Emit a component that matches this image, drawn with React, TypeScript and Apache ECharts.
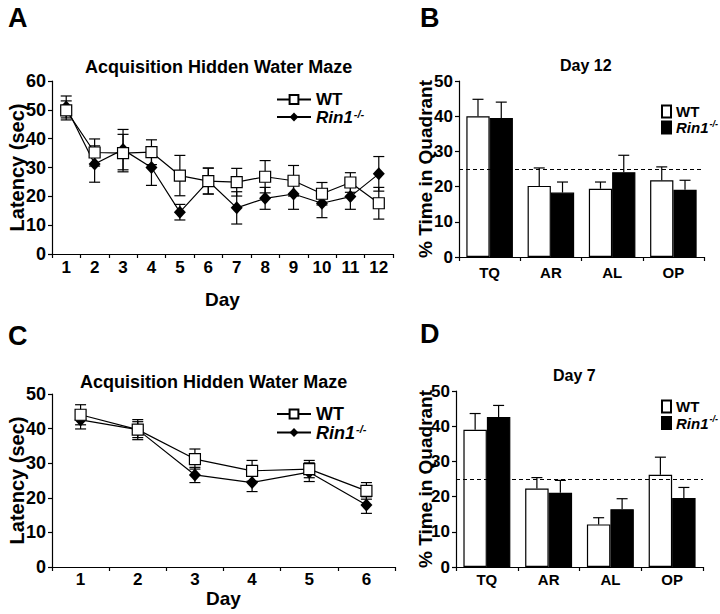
import React, { useEffect, useRef } from 'react';
import * as echarts from 'echarts';

const FONT = '"Liberation Sans", Arial, Helvetica, sans-serif';

// Panel A: acquisition, 12 days
const daysA = ['1', '2', '3', '4', '5', '6', '7', '8', '9', '10', '11', '12'];
const wtA = [49.8, 35.2, 35.0, 35.3, 27.2, 25.3, 24.9, 26.8, 25.4, 20.9, 24.8, 17.6];
const wtAErr = [3.3, 4.7, 6.5, 4.3, 7.0, 4.5, 4.8, 5.6, 5.3, 3.9, 3.4, 5.5];
const rinA = [51.0, 31.2, 36.2, 30.0, 14.5, 25.3, 16.0, 19.3, 20.8, 17.6, 19.9, 27.8];
const rinAErr = [3.8, 6.3, 7.0, 6.2, 2.7, 4.5, 5.6, 3.8, 5.3, 5.0, 4.4, 6.0];

// Panel C: acquisition, 6 days
const daysC = ['1', '2', '3', '4', '5', '6'];
const wtC = [44.0, 39.7, 31.2, 27.8, 28.3, 22.0];
const wtCErr = [2.9, 2.3, 2.9, 3.0, 2.5, 2.4];
const rinC = [42.5, 39.7, 26.6, 24.4, 27.4, 17.9];
const rinCErr = [2.6, 2.9, 2.2, 2.6, 2.7, 2.4];

// Panels B and D: probe trials
const quadrants = ['TQ', 'AR', 'AL', 'OP'];
const wtB = [40.0, 20.2, 19.4, 21.8];
const wtBErr = [4.8, 5.1, 1.9, 3.8];
const rinB = [39.5, 18.3, 24.1, 19.1];
const rinBErr = [4.5, 3.0, 4.8, 2.7];
const wtD = [39.0, 22.3, 12.1, 26.2];
const wtDErr = [4.6, 3.1, 1.9, 5.0];
const rinD = [42.6, 21.1, 16.4, 19.6];
const rinDErr = [3.3, 3.5, 3.0, 3.0];
const chance = 25;

const BLACK = '#000';

function lineErrItem(params: any, api: any) {
  const x = api.value(0);
  const lo = api.coord([x, api.value(1)]);
  const hi = api.coord([x, api.value(2)]);
  const w = 5.5;
  const style = { stroke: BLACK, lineWidth: 1.2, fill: 'none' };
  return {
    type: 'group',
    children: [
      { type: 'line', shape: { x1: lo[0], y1: lo[1], x2: hi[0], y2: hi[1] }, style },
      { type: 'line', shape: { x1: lo[0] - w, y1: lo[1], x2: lo[0] + w, y2: lo[1] }, style },
      { type: 'line', shape: { x1: hi[0] - w, y1: hi[1], x2: hi[0] + w, y2: hi[1] }, style },
    ],
  };
}

function barErrItem(params: any, api: any) {
  const c = api.value(0);
  const side = api.value(1);
  const b = api.coord([c, api.value(2)]);
  const t = api.coord([c, api.value(3)]);
  const band = api.size([1, 0])[0];
  const x = b[0] + (side === 0 ? -1 : 1) * band * 0.19;
  const w = 5.5;
  const style = { stroke: BLACK, lineWidth: 1.2, fill: 'none' };
  return {
    type: 'group',
    children: [
      { type: 'line', shape: { x1: x, y1: b[1], x2: x, y2: t[1] }, style },
      { type: 'line', shape: { x1: x - w, y1: t[1], x2: x + w, y2: t[1] }, style },
    ],
  };
}

const legendRich = (size: number, lh: number) => ({
  n: { fontFamily: FONT, fontWeight: 'bold', fontSize: size, color: BLACK, lineHeight: lh },
  i: { fontFamily: FONT, fontWeight: 'bold', fontStyle: 'italic', fontSize: size, color: BLACK, lineHeight: lh },
  s: {
    fontFamily: FONT,
    fontWeight: 'bold',
    fontStyle: 'italic',
    fontSize: Math.round(size * 0.62),
    color: BLACK,
    lineHeight: Math.round(size * 0.62),
    verticalAlign: 'top',
    padding: [0, 0, 0, 1],
  },
});

const legendFormatter = (name: string) => (name.endsWith('WT') ? '{n|WT}' : '{i|Rin1}{s|-/-}');

function catAxis(gridIndex: number, data: string[], opts: any) {
  return {
    type: 'category',
    gridIndex,
    data,
    boundaryGap: true,
    axisLine: { show: true, lineStyle: { color: BLACK, width: 1.2 } },
    axisTick: { show: true, length: 4, lineStyle: { color: BLACK, width: 1.2 } },
    axisLabel: {
      color: BLACK,
      fontFamily: FONT,
      fontWeight: 'bold',
      fontSize: opts.labelSize,
      margin: opts.labelMargin,
    },
    splitLine: { show: false },
    name: opts.name || '',
    nameLocation: 'middle',
    nameGap: opts.nameGap || 0,
    nameTextStyle: { color: BLACK, fontFamily: FONT, fontWeight: 'bold', fontSize: 19 },
  };
}

function valAxis(gridIndex: number, max: number, opts: any) {
  return {
    type: 'value',
    gridIndex,
    min: 0,
    max,
    interval: 10,
    axisLine: { show: true, lineStyle: { color: BLACK, width: 1.2 } },
    axisTick: { show: true, length: 4, lineStyle: { color: BLACK, width: 1.2 } },
    axisLabel: {
      color: BLACK,
      fontFamily: FONT,
      fontWeight: 'bold',
      fontSize: opts.labelSize,
      margin: 6,
    },
    splitLine: { show: false },
    name: opts.name,
    nameLocation: 'middle',
    nameRotate: 90,
    nameGap: opts.nameGap,
    nameMoveOverlap: false,
    nameTextStyle: { color: BLACK, fontFamily: FONT, fontWeight: 'bold', fontSize: opts.nameSize },
  };
}

function lineSeries(prefix: string, axis: number, wt: number[], wtErr: number[], rin: number[], rinErr: number[]) {
  return [
    {
      type: 'custom',
      xAxisIndex: axis,
      yAxisIndex: axis,
      renderItem: lineErrItem,
      encode: { x: 0, y: [1, 2] },
      data: wt.map((v, i) => [i, v - wtErr[i], v + wtErr[i]]),
      z: 1,
      silent: true,
    },
    {
      type: 'custom',
      xAxisIndex: axis,
      yAxisIndex: axis,
      renderItem: lineErrItem,
      encode: { x: 0, y: [1, 2] },
      data: rin.map((v, i) => [i, v - rinErr[i], v + rinErr[i]]),
      z: 1,
      silent: true,
    },
    {
      name: prefix + 'Rin',
      type: 'line',
      xAxisIndex: axis,
      yAxisIndex: axis,
      data: rin,
      symbol: 'diamond',
      symbolSize: [12, 13],
      itemStyle: { color: BLACK, borderColor: BLACK, borderWidth: 0 },
      lineStyle: { color: BLACK, width: 1.2 },
      z: 3,
    },
    {
      name: prefix + 'WT',
      type: 'line',
      xAxisIndex: axis,
      yAxisIndex: axis,
      data: wt,
      symbol: 'rect',
      symbolSize: 11,
      itemStyle: { color: '#fff', borderColor: BLACK, borderWidth: 1.2 },
      lineStyle: { color: BLACK, width: 1.2 },
      z: 4,
    },
  ];
}

function barSeries(prefix: string, axis: number, wt: number[], wtErr: number[], rin: number[], rinErr: number[]) {
  const errData: number[][] = [];
  wt.forEach((v, i) => errData.push([i, 0, v, v + wtErr[i]]));
  rin.forEach((v, i) => errData.push([i, 1, v, v + rinErr[i]]));
  return [
    {
      name: prefix + 'WT',
      type: 'bar',
      xAxisIndex: axis,
      yAxisIndex: axis,
      data: wt,
      barWidth: '38%',
      barGap: '0%',
      itemStyle: { color: '#fff', borderColor: BLACK, borderWidth: 1.2 },
      z: 2,
    },
    {
      name: prefix + 'Rin',
      type: 'bar',
      xAxisIndex: axis,
      yAxisIndex: axis,
      data: rin,
      barWidth: '38%',
      barGap: '0%',
      itemStyle: { color: BLACK, borderColor: BLACK, borderWidth: 1.2 },
      z: 2,
      markLine: {
        silent: true,
        symbol: ['none', 'none'],
        label: { show: false },
        lineStyle: { type: [4, 3], color: BLACK, width: 1 },
        data: [{ yAxis: chance }],
      },
    },
    {
      type: 'custom',
      xAxisIndex: axis,
      yAxisIndex: axis,
      renderItem: barErrItem,
      encode: { x: 0, y: [2, 3] },
      data: errData,
      z: 3,
      silent: true,
    },
  ];
}

function textTitle(text: string, left: number, top: number, size: number) {
  return {
    text,
    left,
    top,
    padding: 0,
    textStyle: { color: BLACK, fontFamily: FONT, fontWeight: 'bold', fontSize: size },
  };
}

function lineLegend(names: string[], left: number, top: number, size: number, lh: number) {
  return {
    data: names,
    left,
    top,
    orient: 'vertical',
    itemWidth: 34,
    itemHeight: 11,
    itemGap: 0,
    padding: 0,
    selectedMode: false,
    formatter: legendFormatter,
    textStyle: { fontFamily: FONT, fontWeight: 'bold', fontSize: size, color: BLACK, rich: legendRich(size, lh) },
  };
}

function barLegend(names: string[], left: number, top: number, lh: number) {
  return {
    data: names.map((n) => ({ name: n, icon: 'rect' })),
    left,
    top,
    orient: 'vertical',
    itemWidth: 9,
    itemHeight: 12,
    itemGap: 0,
    padding: 0,
    selectedMode: false,
    formatter: legendFormatter,
    textStyle: { fontFamily: FONT, fontWeight: 'bold', fontSize: 15, color: BLACK, rich: legendRich(15, lh) },
  };
}

export default function App() {
  const ref = useRef<HTMLDivElement>(null);

  useEffect(() => {
    document.body.style.margin = '0';
    if (!ref.current) return;
    const chart = echarts.init(ref.current, undefined, { renderer: 'svg' });
    const option: any = {
      animation: false,
      backgroundColor: '#fff',
      title: [
        textTitle('A', 8, 4, 27),
        textTitle('B', 420, 4, 27),
        textTitle('C', 8, 322, 27),
        textTitle('D', 420, 320, 27),
        textTitle('Acquisition Hidden Water Maze', 85, 58, 18),
        textTitle('Acquisition Hidden Water Maze', 80, 373, 18),
        textTitle('Day 12', 560, 57, 16),
        textTitle('Day 7', 553, 367, 16),
      ],
      legend: [
        lineLegend(['aWT', 'aRin'], 276, 91, 17, 18),
        lineLegend(['cWT', 'cRin'], 276, 405, 18, 19),
        barLegend(['bWT', 'bRin'], 661, 104, 17),
        barLegend(['dWT', 'dRin'], 661, 399, 18),
      ],
      grid: [
        { left: 52, top: 81, width: 341, height: 173 },
        { left: 459, top: 81, width: 245, height: 176 },
        { left: 52, top: 394, width: 343, height: 173 },
        { left: 456, top: 391, width: 247, height: 176 },
      ],
      xAxis: [
        catAxis(0, daysA, { labelSize: 17, labelMargin: 5, name: 'Day', nameGap: 36 }),
        catAxis(1, quadrants, { labelSize: 15, labelMargin: 8 }),
        catAxis(2, daysC, { labelSize: 17, labelMargin: 4, name: 'Day', nameGap: 21 }),
        catAxis(3, quadrants, { labelSize: 15, labelMargin: 5 }),
      ],
      yAxis: [
        valAxis(0, 60, { labelSize: 18, name: 'Latency (sec)', nameGap: 25, nameSize: 20 }),
        valAxis(1, 50, { labelSize: 17, name: '% Time in Quadrant', nameGap: 24, nameSize: 19 }),
        valAxis(2, 50, { labelSize: 18, name: 'Latency (sec)', nameGap: 25, nameSize: 20 }),
        valAxis(3, 50, { labelSize: 17, name: '% Time in Quadrant', nameGap: 21, nameSize: 19 }),
      ],
      series: [
        ...lineSeries('a', 0, wtA, wtAErr, rinA, rinAErr),
        ...barSeries('b', 1, wtB, wtBErr, rinB, rinBErr),
        ...lineSeries('c', 2, wtC, wtCErr, rinC, rinCErr),
        ...barSeries('d', 3, wtD, wtDErr, rinD, rinDErr),
      ],
    };
    chart.setOption(option);
    return () => chart.dispose();
  }, []);

  return <div ref={ref} style={{ width: 720, height: 614 }} />;
}
